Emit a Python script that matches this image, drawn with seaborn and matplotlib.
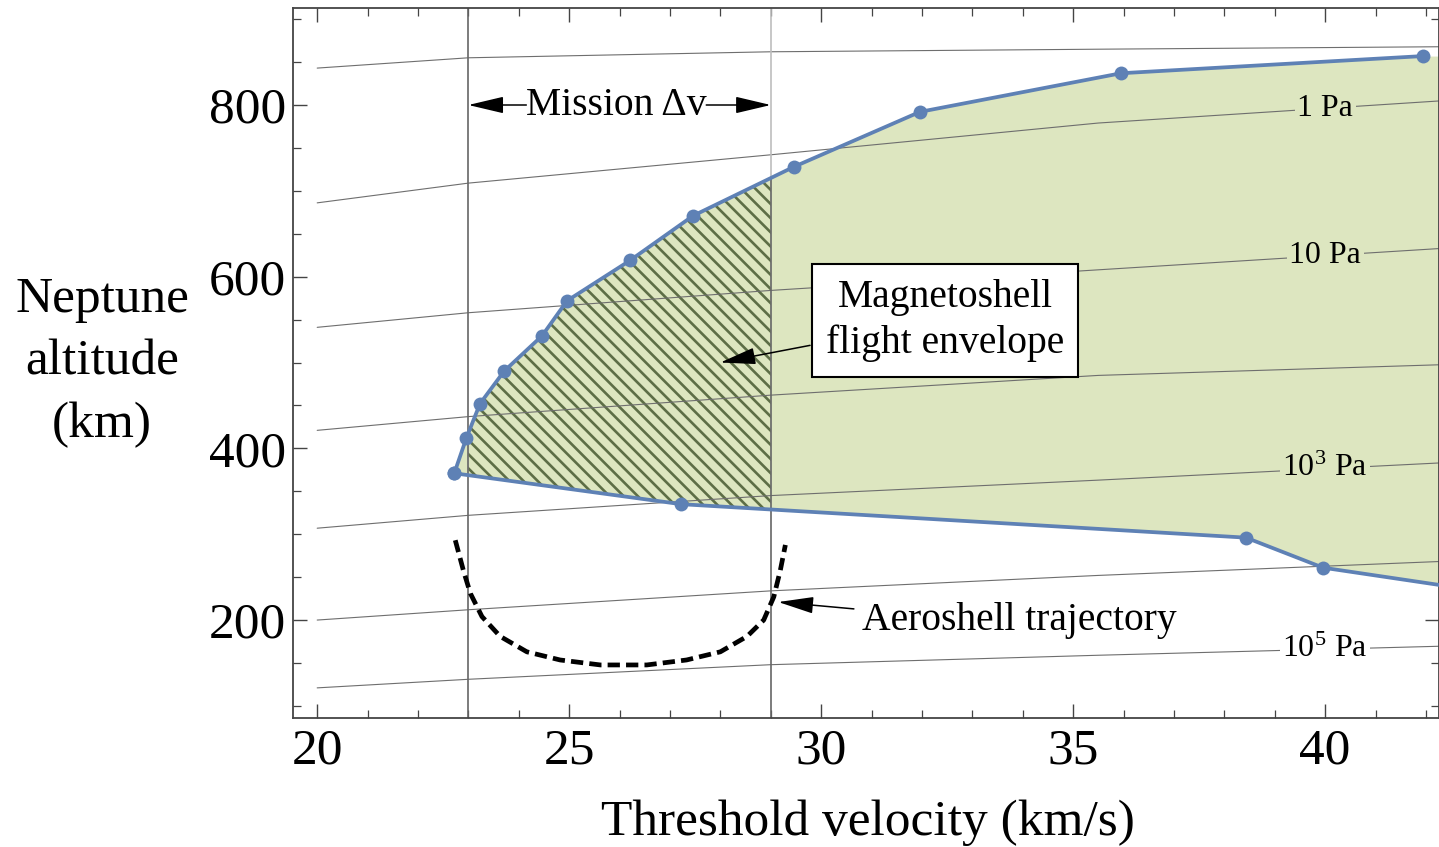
import numpy as np
import matplotlib
matplotlib.use("Agg")
import matplotlib.pyplot as plt
from matplotlib.ticker import MultipleLocator, FixedLocator
import seaborn as sns

# Magnetoshell flight envelope boundaries: threshold velocity (km/s) vs altitude (km)
upper_v = [22.72, 22.96, 23.23, 23.71, 24.46, 24.96, 26.21, 27.46, 29.46, 31.96, 35.95, 41.94]
upper_alt = [371, 412, 452, 490, 531, 572, 619, 671, 728, 792, 837, 857]
lower_v = [22.72, 27.22, 38.43, 39.96, 42.6]
lower_alt = [371, 335, 296, 261, 238]

# Mission delta-v bounds (km/s)
dv_bounds = [23.0, 29.0]

# Constant-pressure contours
iso_v = [20, 23, 29, 35.5, 42.6]
iso_01 = [843, 855, 862, 865, 868]
iso_1 = [686, 709, 742, 779, 806]
iso_10 = [541, 558, 584, 608, 634]
iso_100 = [421, 437, 462, 485, 498]
iso_1e3 = [307, 322, 345, 363, 384]
iso_1e4 = [200, 212, 234, 252, 269]
iso_1e5 = [121, 131, 148, 159, 170]
isobars = [iso_01, iso_1, iso_10, iso_100, iso_1e3, iso_1e4, iso_1e5]
iso_labels = [None, "1 Pa", "10 Pa", None, r"$\mathregular{10^3}$ Pa", None, r"$\mathregular{10^5}$ Pa"]
iso_label_v = 40.0

# Aeroshell trajectory
aero_v = [22.74, 22.90, 23.04, 23.27, 23.63, 24.16, 24.82, 25.62, 26.54, 27.33,
          28.00, 28.53, 28.86, 29.06, 29.19, 29.29]
aero_alt = [293, 258, 231, 204, 181, 163, 153.5, 147.7, 147.7, 153.5,
            163, 181, 200, 227, 258, 287.5]

x_ticks = [20, 25, 30, 35, 40]
y_ticks = [200, 400, 600, 800]

BLUE = "#5e81b5"
GREEN = "#dde6c0"
HATCH = "#5d6e46"
ISO = "#6e6e6e"

# Rendering resolution; S converts sizes given for a 100-dpi canvas into points
DPI = 85
S = 100 / DPI

sns.set_theme(style="ticks")
plt.rcParams["font.family"] = ["Liberation Serif", "DejaVu Serif"]
plt.rcParams["mathtext.fontset"] = "custom"
plt.rcParams["mathtext.rm"] = "Liberation Serif"
plt.rcParams["hatch.linewidth"] = 1.9 * S
plt.rcParams["text.color"] = "black"
plt.rcParams["axes.labelcolor"] = "black"

W, H = 1439, 847
fig = plt.figure(figsize=(W / DPI, H / DPI), dpi=DPI)
ax = fig.add_axes([293 / W, 1 - 718 / H, (W - 293) / W, (718 - 8) / H])
xlim = (19.52, 42.26)
ylim = (85.9, 913)

# Envelope fill
grid = np.linspace(min(upper_v), max(lower_v), 800)
up = np.interp(grid, upper_v, upper_alt)
lo = np.interp(grid, lower_v, lower_alt)
ax.fill_between(grid, lo, up, color=GREEN, lw=0, zorder=1)

# Hatched part of the envelope reachable within the mission delta-v
g2 = np.linspace(dv_bounds[0], dv_bounds[1], 400)
ax.fill_between(g2, np.interp(g2, lower_v, lower_alt), np.interp(g2, upper_v, upper_alt),
                facecolor="none", edgecolor=HATCH, hatch="\\\\", lw=0, zorder=1.5)

# Isobars
def bg_at(v, y):
    inside = np.interp(v, lower_v, lower_alt) < y < np.interp(v, upper_v, upper_alt)
    return GREEN if inside else "white"

for vals, lab in zip(isobars, iso_labels):
    sns.lineplot(x=iso_v, y=vals, color=ISO, lw=0.8 * S, estimator=None, sort=False, ax=ax, zorder=2)
    if lab:
        yl = np.interp(iso_label_v, iso_v, vals)
        ax.text(iso_label_v, yl, lab, fontsize=23 * S, ha="center", va="center", zorder=2.5,
                bbox=dict(boxstyle="square,pad=0.08", fc=bg_at(iso_label_v, yl), ec="none"))

# Mission delta-v bounds
ax.axvline(dv_bounds[0], color="#666666", lw=1.2 * S, zorder=2.2)
top29 = np.interp(dv_bounds[1], upper_v, upper_alt)
ax.vlines(dv_bounds[1], ylim[0], top29, color="#666666", lw=1.2 * S, zorder=2.2)
ax.vlines(dv_bounds[1], top29, ylim[1], color="#bdbdbd", lw=1.2 * S, zorder=2.2)

# Envelope boundaries
for xs, ys in [(upper_v, upper_alt), (lower_v, lower_alt)]:
    sns.lineplot(x=xs, y=ys, color=BLUE, linewidth=2.7 * S, marker="o", markersize=10 * S,
                 markeredgewidth=0, estimator=None, sort=False, ax=ax, zorder=3)

# Aeroshell trajectory
sns.lineplot(x=aero_v, y=aero_alt, color="black", linewidth=3.4 * S, linestyle=(0, (2.6, 1.3)),
             estimator=None, sort=False, ax=ax, zorder=3)

arrow = dict(arrowstyle="-|>,head_length=1.1,head_width=0.26", color="black", lw=1.1 * S,
             shrinkA=0, shrinkB=0, mutation_scale=20 * S)

# Mission delta-v annotation
ax.text(25.93, 800, "Mission Δv", fontsize=28.5 * S, ha="center", va="center", zorder=4)
ax.annotate("", xy=(dv_bounds[0], 800), xytext=(24.15, 800), arrowprops=arrow, zorder=4)
ax.annotate("", xy=(dv_bounds[1], 800), xytext=(27.72, 800), arrowprops=arrow, zorder=4)

# Envelope callout
ax.text(32.46, 549, "Magnetoshell\nflight envelope", fontsize=28.5 * S, ha="center", va="center",
        linespacing=1.32, zorder=4,
        bbox=dict(boxstyle="square,pad=0.36", fc="white", ec="black", lw=1.5 * S))
ax.annotate("", xy=(28.0, 500), xytext=(29.78, 520), arrowprops=arrow, zorder=4)

# Aeroshell callout
ax.text(30.81, 199, "Aeroshell trajectory", fontsize=28.5 * S, ha="left", va="center", zorder=4)
ax.annotate("", xy=(29.15, 221), xytext=(30.65, 213), arrowprops=arrow, zorder=4)

ax.set_xlim(*xlim)
ax.set_ylim(*ylim)
ax.xaxis.set_major_locator(FixedLocator(x_ticks))
ax.xaxis.set_minor_locator(MultipleLocator(1))
ax.yaxis.set_major_locator(FixedLocator(y_ticks))
ax.yaxis.set_minor_locator(MultipleLocator(50))
ax.tick_params(which="both", direction="in", top=True, right=True, color="#444444",
               labelsize=37 * S, labelcolor="black")
ax.tick_params(which="major", length=10 * S, width=1.0 * S)
ax.tick_params(which="minor", length=6 * S, width=0.9 * S)
ax.tick_params(axis="x", which="major", pad=7 * S)
ax.tick_params(axis="y", which="major", pad=5 * S)
for s in ax.spines.values():
    s.set_color("#444444")
    s.set_linewidth(1.3 * S)

ax.set_xlabel("Threshold velocity (km/s)", fontsize=37 * S, va="center")
ax.xaxis.set_label_coords(0.502, -0.147)
ax.set_ylabel("Neptune\naltitude\n(km)", fontsize=37 * S, rotation=0, ha="center", va="center",
              linespacing=1.45)
ax.yaxis.set_label_coords(-0.1667, 0.501)

fig.savefig("out.png", dpi=DPI)
